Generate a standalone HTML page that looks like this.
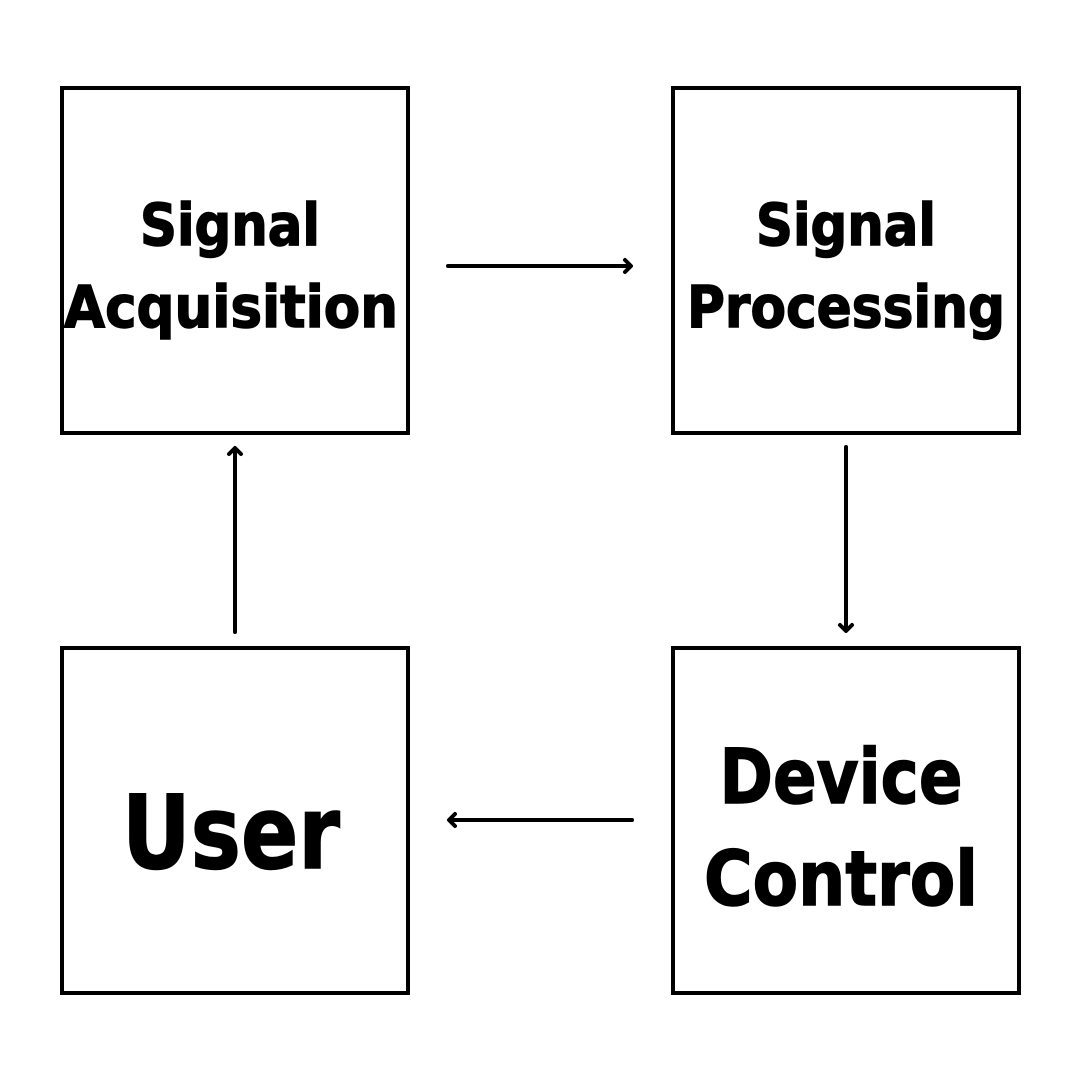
<!DOCTYPE html>
<html><head><meta charset="utf-8"><style>
html,body{margin:0;padding:0;background:#fff;width:1080px;height:1080px;overflow:hidden}
text{font-family:"DejaVu Sans","Liberation Sans",sans-serif;font-weight:bold;fill:#000;stroke:#000;stroke-width:1.5}
</style></head><body>
<svg width="1080" height="1080" viewBox="0 0 1080 1080" xmlns="http://www.w3.org/2000/svg">
<g fill="none" stroke="#000" stroke-width="4">
<rect x="62" y="88" width="346" height="345"/>
<rect x="673" y="88" width="346" height="345"/>
<rect x="62" y="648" width="346" height="345"/>
<rect x="673" y="648" width="346" height="345"/>
</g>
<g fill="none" stroke="#000" stroke-width="4" stroke-linecap="round" stroke-linejoin="round">
<line x1="448" y1="266" x2="630" y2="266"/><polyline points="625,260 631,266 625,272"/>
<line x1="846" y1="447" x2="846" y2="630"/><polyline points="840,625 846,631 852,625"/>
<line x1="632" y1="820" x2="450" y2="820"/><polyline points="455,814 449,820 455,826"/>
<line x1="235" y1="632" x2="235" y2="449"/><polyline points="229,454 235,448 241,454"/>
</g>
<text x="230" y="245" text-anchor="middle" font-size="58" textLength="180" lengthAdjust="spacingAndGlyphs">Signal</text>
<text x="231" y="327" text-anchor="middle" font-size="58" textLength="334" lengthAdjust="spacingAndGlyphs">Acquisition</text>
<text x="846" y="245" text-anchor="middle" font-size="58" textLength="180" lengthAdjust="spacingAndGlyphs">Signal</text>
<text x="846" y="327" text-anchor="middle" font-size="58" textLength="318" lengthAdjust="spacingAndGlyphs">Processing</text>
<text x="231" y="868" text-anchor="middle" font-size="102" textLength="218" lengthAdjust="spacingAndGlyphs">User</text>
<text x="841" y="803" text-anchor="middle" font-size="76" textLength="243" lengthAdjust="spacingAndGlyphs">Device</text>
<text x="841" y="905" text-anchor="middle" font-size="76" textLength="274" lengthAdjust="spacingAndGlyphs">Control</text>
</svg>
</body></html>
